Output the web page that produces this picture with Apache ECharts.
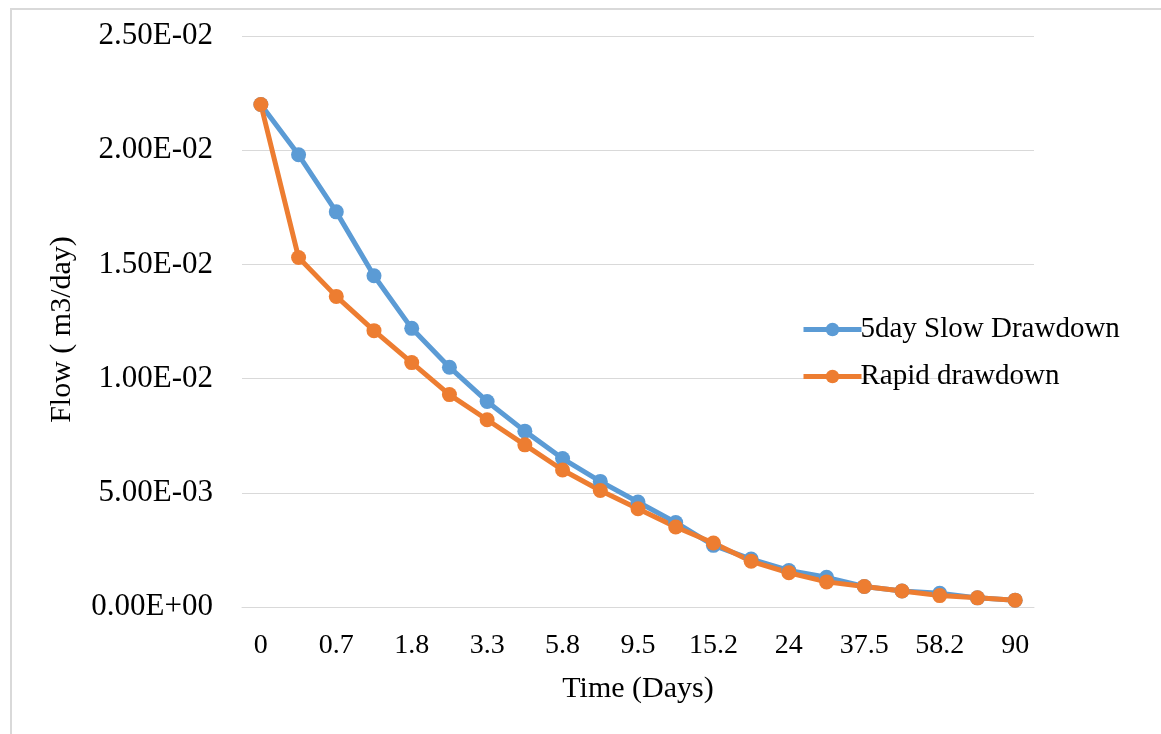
<!DOCTYPE html>
<html>
<head>
<meta charset="utf-8">
<script src="https://cdn.jsdelivr.net/npm/echarts@6/dist/echarts.min.js"></script>
<style>
html,body{margin:0;padding:0;background:#fff;}
#chart{width:1161px;height:734px;}
</style>
</head>
<body>
<div id="chart"></div>
<script>
var categories = ['0','0.3','0.7','1.2','1.8','2.5','3.3','4.5','5.8','7.5','9.5','12','15.2','19','24','30','37.5','47','58.2','73','90'];
var slowDrawdown = [0.0220,0.0198,0.0173,0.0145,0.0122,0.0105,0.0090,0.0077,0.0065,0.0055,0.0046,0.0037,0.0027,0.0021,0.0016,0.0013,0.0009,0.0007,0.0006,0.0004,0.0003];
var rapidDrawdown = [0.0220,0.0153,0.0136,0.0121,0.0107,0.0093,0.0082,0.0071,0.0060,0.0051,0.0043,0.0035,0.0028,0.0020,0.0015,0.0011,0.0009,0.0007,0.0005,0.0004,0.0003];
var yTickLabels = {'0':'0.00E+00','0.005':'5.00E-03','0.01':'1.00E-02','0.015':'1.50E-02','0.02':'2.00E-02','0.025':'2.50E-02'};

var font = 'Liberation Serif, Times New Roman, serif';
var chart = echarts.init(document.getElementById('chart'), null, {renderer:'canvas'});
chart.setOption({
  backgroundColor:'#fff',
  animation:false,
  graphic:[{type:'rect',shape:{x:11,y:9,width:1200,height:800},style:{fill:'none',stroke:'#d9d9d9',lineWidth:2},silent:true}],
  grid:{left:242,right:127,top:36,bottom:127},
  legend:{
    orient:'vertical',left:796,top:310,itemWidth:58,itemHeight:17,itemGap:18,
    lineStyle:{width:5},
    textStyle:{fontFamily:font,fontSize:29,color:'#000',padding:[0,0,0,-6]},
    data:['5day Slow Drawdown','Rapid drawdown']
  },
  xAxis:{
    type:'category',data:categories,boundaryGap:true,
    name:'Time (Days)',nameLocation:'middle',nameGap:67,
    nameTextStyle:{fontFamily:font,fontSize:30,color:'#000'},
    axisLine:{show:true,lineStyle:{color:'#d9d9d9',width:1}},
    axisTick:{show:false},
    axisLabel:{interval:1,fontFamily:font,fontSize:28,color:'#000',margin:25}
  },
  yAxis:{
    type:'value',min:0,max:0.025,interval:0.005,
    name:'Flow ( m3/day)',nameLocation:'middle',nameGap:165,nameRotate:90,
    nameTextStyle:{fontFamily:font,fontSize:30,color:'#000',padding:[0,16,0,0]},
    axisLine:{show:false},axisTick:{show:false},
    splitLine:{lineStyle:{color:'#d9d9d9',width:1}},
    axisLabel:{fontFamily:font,fontSize:31,color:'#000',margin:29,
      formatter:function(v){var k=String(Math.round(v*1000)/1000);return yTickLabels[k]!==undefined?yTickLabels[k]:v;}}
  },
  series:[
    {name:'5day Slow Drawdown',type:'line',data:slowDrawdown,symbol:'circle',symbolSize:15,
     lineStyle:{color:'#5B9BD5',width:5},itemStyle:{color:'#5B9BD5'}},
    {name:'Rapid drawdown',type:'line',data:rapidDrawdown,symbol:'circle',symbolSize:15,
     lineStyle:{color:'#ED7D31',width:5},itemStyle:{color:'#ED7D31'}}
  ]
});
</script>
</body>
</html>
